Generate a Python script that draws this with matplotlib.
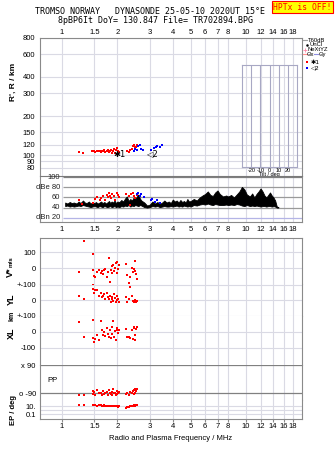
import matplotlib
matplotlib.use('Agg')
import matplotlib.pyplot as plt
from matplotlib.lines import Line2D
from matplotlib.patches import Rectangle
from matplotlib.ticker import NullLocator

plt.rcParams['font.family'] = ['Liberation Sans', 'DejaVu Sans']

# ---------------- data ----------------
freq_ticks = [1, 1.5, 2, 3, 4, 5, 6, 7, 8, 10, 12, 14, 16, 18]
freq_labels = ['1', '1.5', '2', '3', '4', '5', '6', '7', '8', '10', '12', '14', '16', '18']
range_ticks = [80, 90, 100, 120, 150, 200, 300, 400, 600, 800]
range_labels = ['80', '90', '100', '120', '150', '200', '300', '400', '600', '800']
tilt_ticks = [-20, -10, 0, 10, 20]

# virtual range of echoes (MHz, km)
r_red_f = [1.23, 1.30, 1.45, 1.47, 1.50, 1.52, 1.55, 1.58, 1.60, 1.62, 1.65, 1.68, 1.70,
           1.72, 1.75, 1.78, 1.80, 1.82, 1.85, 1.87, 1.90, 1.92, 1.95, 1.97, 2.00, 2.02,
           2.05, 2.25, 2.30, 2.35, 2.40, 2.42, 2.45, 2.48, 2.50, 2.52, 2.55]
r_red_R = [106, 104, 108, 107, 108, 106, 107, 108, 107, 106, 108, 107, 109,
           106, 108, 110, 106, 107, 109, 104, 108, 112, 105, 110, 113, 108,
           106, 108, 106, 110, 112, 118, 120, 115, 112, 116, 119]
r_blue_f = [2.45, 2.50, 2.55, 2.60, 2.65, 2.70, 2.75, 3.05, 3.15, 3.25, 3.30, 3.40, 3.50]
r_blue_R = [108, 112, 110, 118, 121, 112, 110, 110, 113, 115, 117, 116, 119]

# echo amplitudes (MHz, dB)
amp_red_f = [1.23, 1.28, 1.48, 1.52, 1.55, 1.60, 1.63, 1.68, 1.72, 1.75, 1.78, 1.80, 1.83,
             1.85, 1.88, 1.92, 1.95, 1.98, 2.02, 2.05, 2.22, 2.30, 2.35, 2.38, 2.42, 2.45,
             2.50, 2.55]
amp_red_db = [56, 48, 50, 57, 60, 55, 58, 62, 56, 65, 60, 68, 63,
              58, 66, 62, 55, 68, 64, 60, 67, 62, 46, 66, 68, 62,
              58, 64]
amp_blue_f = [2.55, 2.60, 2.65, 2.70, 2.78, 3.05, 3.10, 3.20, 3.30, 3.40]
amp_blue_db = [66, 68, 63, 67, 60, 55, 57, 52, 56, 50]

# unclassified / noise amplitude band (MHz, dB low, dB high)
noise_f = [1.04, 1.07, 1.10, 1.13, 1.16, 1.20, 1.23, 1.26, 1.30, 1.33, 1.36, 1.40, 1.43,
           1.46, 1.50, 1.53, 1.56, 1.60, 1.63, 1.66, 1.70, 1.73, 1.76, 1.80, 1.83, 1.86,
           1.90, 1.93, 1.96, 2.00, 2.05, 2.10, 2.15, 2.20, 2.25, 2.30, 2.35, 2.40, 2.45,
           2.50, 2.55, 2.60, 2.65, 2.70, 2.80, 2.90, 3.00, 3.10, 3.20, 3.30, 3.40, 3.50,
           3.60, 3.70, 3.80, 3.90, 4.00, 4.10, 4.20, 4.30, 4.40, 4.50, 4.60, 4.70, 4.80,
           4.90, 5.00, 5.20, 5.40, 5.60, 5.80, 6.00, 6.20, 6.40, 6.60, 6.80, 7.00, 7.20,
           7.50, 7.80, 8.00, 8.30, 8.60, 8.90, 9.20, 9.50, 9.80, 10.1, 10.5, 10.8, 11.1,
           11.4, 11.7, 12.0, 12.3, 12.6, 12.9, 13.2, 13.5, 13.8, 14.1, 14.4, 14.7, 15.0]
noise_lo = [43, 44, 42, 43, 42, 43, 44, 43, 45, 44, 43, 42, 41,
            42, 43, 42, 41, 43, 42, 41, 43, 42, 41, 42, 43, 41,
            42, 43, 41, 42, 41, 43, 42, 44, 43, 45, 42, 44, 43,
            45, 44, 43, 45, 44, 41, 40, 41, 43, 42, 43, 41, 42,
            43, 42, 42, 43, 42, 43, 44, 42, 43, 42, 44, 43, 42,
            43, 42, 45, 44, 46, 47, 46, 48, 46, 45, 47, 46, 45,
            45, 46, 45, 46, 45, 47, 46, 44, 43, 45, 43, 44, 43,
            44, 43, 42, 43, 43, 42, 43, 43, 42, 43, 42, 40, 40]
noise_hi = [50, 48, 51, 49, 50, 48, 52, 49, 54, 50, 49, 52, 48,
            50, 49, 51, 48, 50, 52, 49, 51, 48, 50, 53, 49, 52,
            50, 54, 49, 52, 51, 55, 52, 58, 62, 53, 57, 54, 60,
            56, 62, 66, 58, 54, 50, 44, 46, 52, 48, 51, 47, 50,
            54, 50, 52, 49, 56, 52, 54, 50, 55, 51, 53, 50, 57,
            52, 53, 57, 54, 60, 64, 67, 72, 65, 63, 70, 74, 67,
            62, 64, 62, 65, 60, 66, 72, 81, 76, 66, 62, 68, 60,
            67, 72, 78, 72, 64, 60, 65, 70, 64, 60, 54, 42, 41]

# echo parameters for the lower panel
ech_f = [1.24, 1.32, 1.47, 1.48, 1.50, 1.52, 1.55, 1.58, 1.62, 1.65, 1.68, 1.70, 1.72,
         1.75, 1.78, 1.80, 1.82, 1.84, 1.86, 1.88, 1.90, 1.92, 1.94, 1.96, 1.98, 2.00,
         2.02, 2.05, 2.22, 2.26, 2.30, 2.35, 2.40, 2.42, 2.45, 2.47, 2.49, 2.50, 2.52, 2.55]
ech_v = [-25, 172, 89, -13, -53, -55, -23, -13, -30, -20, -40, -15, -5,
         -60, -25, 62, -87, -10, 15, -35, 20, -20, 0, 30, -30, 40,
         -8, 20, 25, -45, -98, -60, 0, -25, -5, -5, -20, 47, -40, -70]
ech_yl = [28, 10, 102, 70, 45, 68, 65, 28, 45, 20, 28, 40, 10,
          45, 20, 6, 25, -9, 23, 10, -5, 40, 15, -9, 5, 30,
          8, -8, 23, -9, 6, 87, 28, -3, -8, -10, -5, 0, -9, -6]
ech_xl = [66, -30, 76, -40, -62, -45, -20, -50, 72, 13, -19, 2, -25,
          23, -10, -35, 10, -40, 30, -15, 72, -30, 5, -51, 23, 15,
          -5, 10, 17, -30, -35, -40, 13, -45, 34, 28, -51, -20, 20, 30]
ech_pp = [-100, -100, -75, -95, -80, -100, -70, -90, -85, -100, -75, -95, -90,
          -80, -100, -70, -90, -95, -80, -100, -65, -90, -85, -100, -75, -95,
          -90, -80, -95, -85, -100, -80, -90, -75, -70, -95, -85, -60, -75, -65]
ech_ep = [20, 20, 25, 22, 20, 18, 15, 22, 20, 15, 12, 18, 14,
          12, 10, 15, 12, 10, 14, 12, 10, 11, 13, 10, 12, 10,
          9, 10, 5, 9, 8, 10, 12, 15, 20, 12, 10, 14, 18, 22]

# ---------------- layout helpers ----------------
W, H = 335, 451
fig = plt.figure(figsize=(W / 100, H / 100), dpi=100)
XMIN, XMAX = 0.759, 20.15
X0, X1 = 40, 302
GRID = '#dadae4'
FRAME = '#8a8a8a'
DARK = '#9a9a9a'


def fx(px):
    return px / W


def fy(py):
    return 1 - py / H


def add_ax(top, bottom, left=X0, right=X1):
    return fig.add_axes([fx(left), fy(bottom), (right - left) / W, (bottom - top) / H])


def freq_axis(ax, where=None, pad=1.0, length=0):
    ax.set_xscale('log')
    ax.set_xlim(XMIN, XMAX)
    ax.set_xticks(freq_ticks)
    ax.set_xticklabels(freq_labels)
    ax.xaxis.set_minor_locator(NullLocator())
    ax.grid(axis='x', color=GRID, lw=0.8)
    ax.set_axisbelow(True)
    for s in ax.spines.values():
        s.set_color(FRAME)
        s.set_linewidth(0.8)
    if where == 'top':
        ax.tick_params(axis='x', which='both', top=True, bottom=False, labeltop=True,
                       labelbottom=False, labelsize=5.5, pad=pad, length=length, color=FRAME)
    elif where == 'bottom':
        ax.tick_params(axis='x', which='both', top=False, bottom=True, labeltop=False,
                       labelbottom=True, labelsize=5.5, pad=pad, length=length, color=FRAME)
    else:
        ax.tick_params(axis='x', which='both', top=False, bottom=False, labeltop=False,
                       labelbottom=False)


# ---------------- range panel ----------------
ax_r = add_ax(37.5, 176)
freq_axis(ax_r, 'top', pad=1.0)
ax_r.set_yscale('log')
ax_r.set_ylim(69.3, 805)
ax_r.set_yticks(range_ticks)
ax_r.set_yticklabels(range_labels)
ax_r.yaxis.set_minor_locator(NullLocator())
ax_r.tick_params(axis='y', which='both', length=0, labelsize=5.5, pad=3.5)
ax_r.grid(axis='y', color=GRID, lw=0.8)
ax_r.spines['bottom'].set_visible(False)
ax_r.plot(r_red_f, r_red_R, 's', color='#ff0000', ms=2.0, mew=0)
ax_r.plot(r_blue_f, r_blue_R, 's', color='#0000ff', ms=2.0, mew=0)
ax_r.text(1.893, 102.3, '✱1', fontsize=6, ha='left', va='center', color='black',
          family=['DejaVu Sans'])
ax_r.text(2.86, 104, '◁2', fontsize=6, ha='left', va='center', color='black',
          family=['DejaVu Sans'])

# tilt inset
ax_t = fig.add_axes([fx(241.7), fy(167.3), 55.6 / W, 102.3 / H])
ax_t.set_xlim(-30.5, 30.5)
ax_t.set_ylim(0, 1)
ax_t.patch.set_alpha(0)
ax_t.set_yticks([])
ax_t.set_xticks(tilt_ticks)
ax_t.set_xticklabels([str(t) for t in tilt_ticks])
ax_t.tick_params(axis='x', length=0, labelsize=4.0, pad=0.3)
ax_t.grid(axis='x', color='#a8a8c4', lw=0.8)
for s in ax_t.spines.values():
    s.set_color('#a8a8c4')
    s.set_linewidth(0.8)
ax_t.set_xlabel('Tilt / deg', fontsize=4.0, labelpad=-0.5)

# ---------------- amplitude panel ----------------
ax_a = add_ax(176, 222.3)
freq_axis(ax_a, 'bottom', pad=3.0)
ax_a.set_ylim(10.8, 102.6)
ax_a.set_yticks([])
ax_a.spines['top'].set_color('#7a7a7a')
for lev, col in [(100, '#808080'), (80, DARK), (60, DARK), (40, DARK), (20, '#b4b4e6')]:
    ax_a.hlines(lev, 1.01, XMAX, color=col, lw=0.9, zorder=1)
for lev, lab in [(100, '100'), (80, 'dBe 80'), (60, '60'), (40, '40'), (20, 'dBn 20')]:
    ax_a.text(0.975, lev, lab, fontsize=5.5, ha='right', va='center', color='#222222')
ax_a.fill_between(noise_f, noise_lo, noise_hi, color='black', lw=0.6, edgecolor='black',
                  zorder=3)
ax_a.plot(amp_red_f, amp_red_db, 's', color='#ff0000', ms=2.0, mew=0, zorder=4)
ax_a.plot(amp_blue_f, amp_blue_db, 's', color='#0000ff', ms=2.0, mew=0, zorder=4)

# ---------------- lower stacked panel ----------------
ax_v = add_ax(237.7, 284)
ax_y = add_ax(284, 316)
ax_x = add_ax(316, 365)
ax_p = add_ax(365, 400)
ax_e = add_ax(400, 419.3)
stack = [ax_v, ax_y, ax_x, ax_p, ax_e]
for i, ax in enumerate(stack):
    freq_axis(ax, 'bottom' if ax is ax_e else None, pad=1.0, length=2)
    if i > 0:
        ax.spines['top'].set_visible(False)
    if i < len(stack) - 1:
        ax.spines['bottom'].set_visible(False)
    ax.tick_params(axis='y', length=0, labelsize=5.5, pad=3.0)

ax_v.set_ylim(-101.9, 193)
ax_v.set_yticks([100, 0])
ax_v.set_yticklabels(['100', '0'])
for lev in [100, 0]:
    ax_v.axhline(lev, color=GRID, lw=0.8, zorder=1)
ax_v.plot(ech_f, ech_v, 's', color='#ff0000', ms=2.0, mew=0)

ax_y.set_ylim(-100, 103.8)
ax_y.set_yticks([100, 0, -100])
ax_y.set_yticklabels(['+-100', '0', '+-100'])
for lev in [100, 0, -100]:
    ax_y.axhline(lev, color=GRID, lw=0.8, zorder=1)
ax_y.plot(ech_f, ech_yl, 's', color='#ff0000', ms=2.0, mew=0)

ax_x.set_ylim(-210.2, 101.9)
ax_x.set_yticks([0, -100])
ax_x.set_yticklabels(['0', '-100'])
for lev in [0, -100]:
    ax_x.axhline(lev, color=GRID, lw=0.8, zorder=1)
ax_x.plot(ech_f, ech_xl, 's', color='#ff0000', ms=2.0, mew=0)

ax_p.set_ylim(-132.6, 90)
ax_p.set_yticks([90, -90])
ax_p.set_yticklabels(['x 90', 'o -90'])
for lev in [90, -90]:
    ax_p.axhline(lev, color='#808080', lw=0.9, zorder=1)
ax_p.text(0.03, 0.57, 'PP', transform=ax_p.transAxes, fontsize=5.5, ha='left', va='center')
ax_p.plot(ech_f, ech_pp, 's', color='#ff0000', ms=2.0, mew=0, zorder=3)

ax_e.set_yscale('log')
ax_e.set_ylim(0.0063, 421.7)
ax_e.set_yticks([10, 0.1])
ax_e.set_yticklabels(['10.', '0.1'])
ax_e.yaxis.set_minor_locator(NullLocator())
for lev in [10, 1, 0.1]:
    ax_e.axhline(lev, color=GRID, lw=0.8, zorder=1)
ax_e.plot(ech_f, ech_ep, 's', color='#ff0000', ms=2.0, mew=0, zorder=3)
ax_e.tick_params(axis='y', pad=3.0)

# ---------------- axis titles ----------------
fig.text(fx(13.5), fy(82), "R', R / km", rotation=90, fontsize=6, fontweight='bold',
         ha='center', va='center')
fig.text(fx(10.5), fy(272), 'V*', rotation=90, fontsize=6.5, fontweight='bold',
         ha='center', va='center')
fig.text(fx(11), fy(262), 'm/s', rotation=90, fontsize=4.5, fontweight='bold',
         ha='center', va='center')
fig.text(fx(11), fy(299), 'YL', rotation=90, fontsize=6.5, fontweight='bold',
         ha='center', va='center')
fig.text(fx(11.5), fy(316), 'km', rotation=90, fontsize=5, fontweight='bold',
         ha='center', va='center')
fig.text(fx(11), fy(333), 'XL', rotation=90, fontsize=6.5, fontweight='bold',
         ha='center', va='center')
fig.text(fx(13.3), fy(410), 'EP / deg', rotation=90, fontsize=5.5, fontweight='bold',
         ha='center', va='center')
fig.text(fx(171), fy(439), 'Radio and Plasma Frequency / MHz', fontsize=5.5,
         ha='center', va='center')

# ---------------- header ----------------
mono = ['DejaVu Sans Mono']
fig.text(fx(35), fy(12), 'TROMSO NORWAY   DYNASONDE 25-05-10 2020UT 15°E', fontsize=6,
         family=mono, ha='left', va='center')
fig.text(fx(58.3), fy(20.3), '8pBP6It DoY= 130.847 File= TR702894.BPG', fontsize=6,
         family=mono, ha='left', va='center')
fig.patches.append(Rectangle((fx(271.7), fy(12.7)), 61.3 / W, 11.7 / H, transform=fig.transFigure,
                             facecolor='#ffff00', edgecolor='#ff0000', lw=0.8))
fig.text(fx(302.5), fy(7), 'HPTx is OFF!', fontsize=5.8, family=mono, color='#ff0000',
         ha='center', va='center')

# ---------------- legend ----------------
LS = 4.2
fig.add_artist(Line2D([fx(303), fx(307)], [fy(40.3), fy(40.3)], color='#a0a0a0', lw=0.8))
fig.text(fx(308), fy(40.3), 'T60dB', fontsize=LS, ha='left', va='center')
fig.add_artist(Line2D([fx(306.5)], [fy(45)], marker='o', ms=0.8, color='black', lw=0))
fig.text(fx(310), fy(45), 'UnCl', fontsize=LS, ha='left', va='center')
fig.add_artist(Line2D([fx(305)], [fy(49.7)], marker='+', ms=3, mew=0.6, color='#ff88aa', lw=0))
fig.text(fx(307.5), fy(49.7), 'NeXtYZ', fontsize=LS, ha='left', va='center')
fig.add_artist(Line2D([fx(302.5), fx(306.5)], [fy(54.3), fy(54.3)], color='#ff9090', lw=0.8))
fig.text(fx(307), fy(54.3), 'Θx', fontsize=LS, ha='left', va='center')
fig.add_artist(Line2D([fx(314), fx(318)], [fy(54.3), fy(54.3)], color='#9090e0', lw=0.8))
fig.text(fx(318.5), fy(54.3), 'Θy', fontsize=LS, ha='left', va='center')
fig.add_artist(Line2D([fx(307)], [fy(62)], marker='s', ms=2.0, mew=0, color='#ff0000', lw=0))
fig.text(fx(310.5), fy(62), '✱1', fontsize=4.5, ha='left', va='center', family=['DejaVu Sans'])
fig.add_artist(Line2D([fx(307)], [fy(67.7)], marker='s', ms=2.0, mew=0, color='#0000ff', lw=0))
fig.text(fx(310.5), fy(67.7), '◁2', fontsize=4.5, ha='left', va='center', family=['DejaVu Sans'])

fig.savefig('out.png', dpi=100)
